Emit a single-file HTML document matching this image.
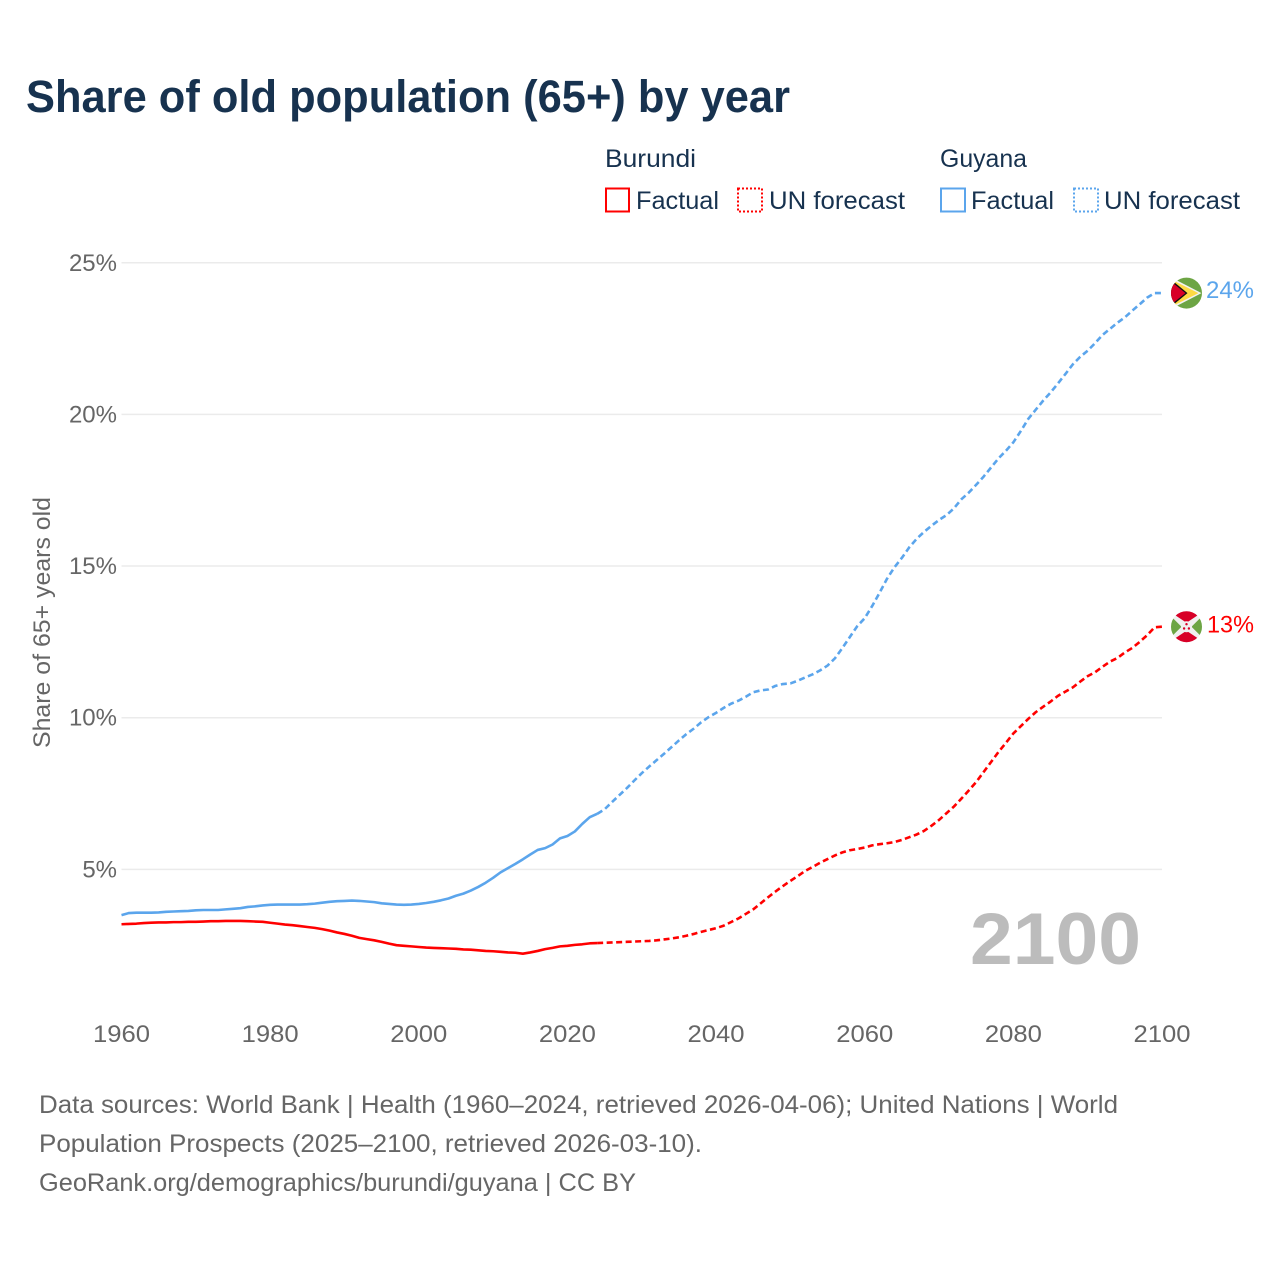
<!DOCTYPE html>
<html lang="en">
<head>
<meta charset="utf-8">
<title>Share of old population (65+) by year</title>
<style>
html,body{margin:0;padding:0;background:#fff}
svg{display:block}
text{font-family:"Liberation Sans",sans-serif}
</style>
</head>
<body>
<svg id="chart" xmlns="http://www.w3.org/2000/svg" width="1280" height="1280" viewBox="0 0 1280 1280">
  <rect width="1280" height="1280" fill="#fff"/>
  <text x="26" y="112" font-size="45" font-weight="700" fill="#17324f" textLength="764" lengthAdjust="spacingAndGlyphs">Share of old population (65+) by year</text>

  <g font-size="25" fill="#17324f">
    <text x="605" y="167" textLength="91" lengthAdjust="spacingAndGlyphs">Burundi</text>
    <rect x="606" y="188.500" width="23" height="23" fill="none" stroke="#ff0000" stroke-width="2"/>
    <text x="636" y="209" textLength="83" lengthAdjust="spacingAndGlyphs">Factual</text>
    <rect x="738" y="188.500" width="24" height="23" fill="none" stroke="#ff0000" stroke-width="2" stroke-dasharray="2 2"/>
    <text x="769" y="209" textLength="136" lengthAdjust="spacingAndGlyphs">UN forecast</text>
    <text x="940" y="167" textLength="87" lengthAdjust="spacingAndGlyphs">Guyana</text>
    <rect x="941" y="188.500" width="24" height="23" fill="none" stroke="#5ba5ec" stroke-width="2"/>
    <text x="971" y="209" textLength="83" lengthAdjust="spacingAndGlyphs">Factual</text>
    <rect x="1074" y="188.500" width="24" height="23" fill="none" stroke="#5ba5ec" stroke-width="2" stroke-dasharray="2 2"/>
    <text x="1104" y="209" textLength="136" lengthAdjust="spacingAndGlyphs">UN forecast</text>
  </g>

  <g id="grid"></g>
  <g id="yticks" font-size="24" fill="#666"></g>
  <g id="xticks" font-size="24" fill="#666"></g>
  <text transform="translate(50,622.500) rotate(-90)" text-anchor="middle" font-size="24" fill="#666" textLength="251" lengthAdjust="spacingAndGlyphs">Share of 65+ years old</text>

  <text id="year-label" x="1141" y="964" text-anchor="end" font-size="73" font-weight="700" fill="#bcbcbc" textLength="171" lengthAdjust="spacingAndGlyphs">2100</text>

  <g id="series"></g>
  <g id="markers"></g>

  <g font-size="25" fill="#666">
    <text x="39" y="1113" textLength="1079" lengthAdjust="spacingAndGlyphs">Data sources: World Bank | Health (1960–2024, retrieved 2026-04-06); United Nations | World</text>
    <text x="39" y="1152" textLength="663" lengthAdjust="spacingAndGlyphs">Population Prospects (2025–2100, retrieved 2026-03-10).</text>
    <text x="39" y="1191" textLength="597" lengthAdjust="spacingAndGlyphs">GeoRank.org/demographics/burundi/guyana | CC BY</text>
  </g>
</svg>
<script>
const startYear = 1960;
const lastFactualYear = 2024;
const xTickYears = [1960, 1980, 2000, 2020, 2040, 2060, 2080, 2100];
const yTickValues = [5, 10, 15, 20, 25];

const burundiFactual = [
  3.19,3.20,3.21,3.23,3.24,3.25,3.25,3.26,3.26,3.27,
  3.27,3.28,3.29,3.29,3.30,3.30,3.30,3.29,3.28,3.27,
  3.24,3.21,3.18,3.16,3.13,3.10,3.07,3.03,2.98,2.92,
  2.87,2.81,2.74,2.70,2.66,2.61,2.55,2.50,2.48,2.46,
  2.44,2.42,2.41,2.40,2.39,2.38,2.36,2.35,2.33,2.31,
  2.30,2.28,2.26,2.25,2.22,2.26,2.31,2.37,2.41,2.46,
  2.48,2.51,2.53,2.56,2.57
];
const burundiForecast = [
  2.58,2.59,2.60,2.61,2.62,
  2.63,2.64,2.66,2.69,2.72,2.76,2.81,2.87,2.94,3.00,
  3.06,3.14,3.26,3.38,3.53,3.68,3.88,4.08,4.27,4.45,
  4.62,4.78,4.95,5.08,5.22,5.34,5.46,5.56,5.63,5.67,
  5.72,5.79,5.83,5.86,5.90,5.97,6.06,6.15,6.27,6.44,
  6.63,6.85,7.07,7.33,7.60,7.88,8.21,8.54,8.87,9.17,
  9.48,9.72,9.96,10.18,10.36,10.53,10.72,10.86,11.00,11.19,
  11.37,11.50,11.68,11.85,11.97,12.15,12.30,12.50,12.72,12.98,
  13.00
];
const guyanaFactual = [
  3.49,3.56,3.57,3.57,3.57,3.58,3.60,3.61,3.62,3.63,
  3.65,3.66,3.66,3.66,3.68,3.70,3.72,3.76,3.78,3.81,
  3.83,3.84,3.84,3.84,3.84,3.85,3.87,3.90,3.93,3.95,
  3.96,3.97,3.96,3.94,3.92,3.88,3.86,3.84,3.83,3.84,
  3.86,3.89,3.93,3.98,4.04,4.13,4.20,4.30,4.42,4.56,
  4.72,4.90,5.04,5.18,5.33,5.49,5.64,5.70,5.82,6.02,
  6.10,6.25,6.50,6.72,6.83
];
const guyanaForecast = [
  6.98,7.22,7.45,7.68,7.93,
  8.17,8.39,8.60,8.81,9.03,9.25,9.46,9.64,9.85,10.02,
  10.16,10.32,10.46,10.56,10.69,10.84,10.90,10.93,11.05,11.11,
  11.13,11.22,11.33,11.43,11.56,11.72,11.96,12.30,12.66,13.02,
  13.28,13.68,14.12,14.58,14.96,15.27,15.62,15.90,16.13,16.33,
  16.52,16.68,16.90,17.20,17.42,17.68,17.95,18.25,18.55,18.80,
  19.08,19.45,19.85,20.15,20.45,20.72,21.02,21.33,21.65,21.90,
  22.10,22.35,22.62,22.82,23.02,23.20,23.42,23.63,23.85,24.00,
  24.00
];

const NS = 'http://www.w3.org/2000/svg';
const xScale = year => 121.5 + (year - 1960) * (1162 - 121.5) / 140;
const yScale = value => 1021 - value * 30.33;

function make(tag, attrs, parent, txt) {
  const el = document.createElementNS(NS, tag);
  for (const k in attrs) el.setAttribute(k, attrs[k]);
  if (txt !== undefined) el.textContent = txt;
  parent.appendChild(el);
  return el;
}

const gridG = document.getElementById('grid');
const yG = document.getElementById('yticks');
yTickValues.forEach(v => {
  const line = make('line', {x1: 121.5, x2: 1162, y1: yScale(v), y2: yScale(v), stroke: '#ebebeb', 'stroke-width': 1.5}, gridG);
  
  
  const label = make('text', {x: 117, y: yScale(v) + 8, 'text-anchor': 'end'}, yG, v + '%');
  
  
});

const xG = document.getElementById('xticks');
xTickYears.forEach(y => {
  const label = make('text', {x: xScale(y), y: 1042, 'text-anchor': 'middle', textLength: 57, lengthAdjust: 'spacingAndGlyphs'}, xG, String(y));
  
  
});

function pathFrom(values, firstYear) {
  return values.map((v, i) => (i ? 'L' : 'M') + xScale(firstYear + i).toFixed(2) + ' ' + yScale(v).toFixed(2)).join(' ');
}

const seriesG = document.getElementById('series');
function drawSeries(key, color, factual, forecast) {
  const a = make('path', {d: pathFrom(factual, startYear), fill: 'none', stroke: color, 'stroke-width': 2.6, 'stroke-linejoin': 'round'}, seriesG);
  
  
  const joined = [factual[factual.length - 1]].concat(forecast);
  const b = make('path', {d: pathFrom(joined, lastFactualYear), fill: 'none', stroke: color, 'stroke-width': 2.6, 'stroke-dasharray': '6 3.5', 'stroke-linejoin': 'round'}, seriesG);
  
  
}
drawSeries('burundi', '#ff0000', burundiFactual, burundiForecast);
drawSeries('guyana', '#5ba5ec', guyanaFactual, guyanaForecast);

const markersG = document.getElementById('markers');
const endYear = startYear + burundiFactual.length + burundiForecast.length - 1;
const flagX = xScale(endYear) + 24.5;

function flagGroup(name, cy) {
  const g = make('g', {transform: 'translate(' + flagX + ',' + cy + ')'}, markersG);
  
  
  const clip = make('clipPath', {id: name + '-clip'}, g);
  make('circle', {r: 15.5}, clip);
  return make('g', {'clip-path': 'url(#' + name + '-clip)'}, g);
}

const guyanaEnd = guyanaForecast[guyanaForecast.length - 1];
const gy = flagGroup('guyana-flag', yScale(guyanaEnd));
make('rect', {x: -16, y: -16, width: 32, height: 32, fill: '#6da544'}, gy);
make('path', {d: 'M-16 -16 L15 0 L-16 16 Z', fill: '#f2f2f2'}, gy);
make('path', {d: 'M-16 -14 L12 0 L-16 14 Z', fill: '#ffda44'}, gy);
make('path', {d: 'M-16 -14 L1 0 L-16 14 Z', fill: '#111'}, gy);
make('path', {d: 'M-16 -12 L-1 0 L-16 12 Z', fill: '#d80027'}, gy);

const burundiEnd = burundiForecast[burundiForecast.length - 1];
const bu = flagGroup('burundi-flag', yScale(burundiEnd));
make('rect', {x: -16, y: -16, width: 32, height: 32, fill: '#f0f0f0'}, bu);
make('path', {d: 'M-12 -16 L12 -16 L12 -12 L0 -4 L-12 -12 Z', fill: '#d80027'}, bu);
make('path', {d: 'M-12 16 L12 16 L12 12 L0 4 L-12 12 Z', fill: '#d80027'}, bu);
make('path', {d: 'M-16 -11 L-5 0 L-16 11 Z', fill: '#6da544'}, bu);
make('path', {d: 'M16 -11 L5 0 L16 11 Z', fill: '#6da544'}, bu);
make('circle', {r: 5.5, fill: '#f0f0f0'}, bu);
make('circle', {cx: 0, cy: -2.5, r: 1.2, fill: '#d80027'}, bu);
make('circle', {cx: -2.4, cy: 1.8, r: 1.2, fill: '#d80027'}, bu);
make('circle', {cx: 2.4, cy: 1.8, r: 1.2, fill: '#d80027'}, bu);

const gLabel = make('text', {x: 1254, y: yScale(guyanaEnd) + 5, 'text-anchor': 'end', 'font-size': 24, fill: '#5ba5ec', textLength: 48, lengthAdjust: 'spacingAndGlyphs'}, markersG, Math.round(guyanaEnd) + '%');


const bLabel = make('text', {x: 1254, y: yScale(burundiEnd) + 6, 'text-anchor': 'end', 'font-size': 24, fill: '#ff0000', textLength: 47, lengthAdjust: 'spacingAndGlyphs'}, markersG, Math.round(burundiEnd) + '%');


</script>
</body>
</html>
